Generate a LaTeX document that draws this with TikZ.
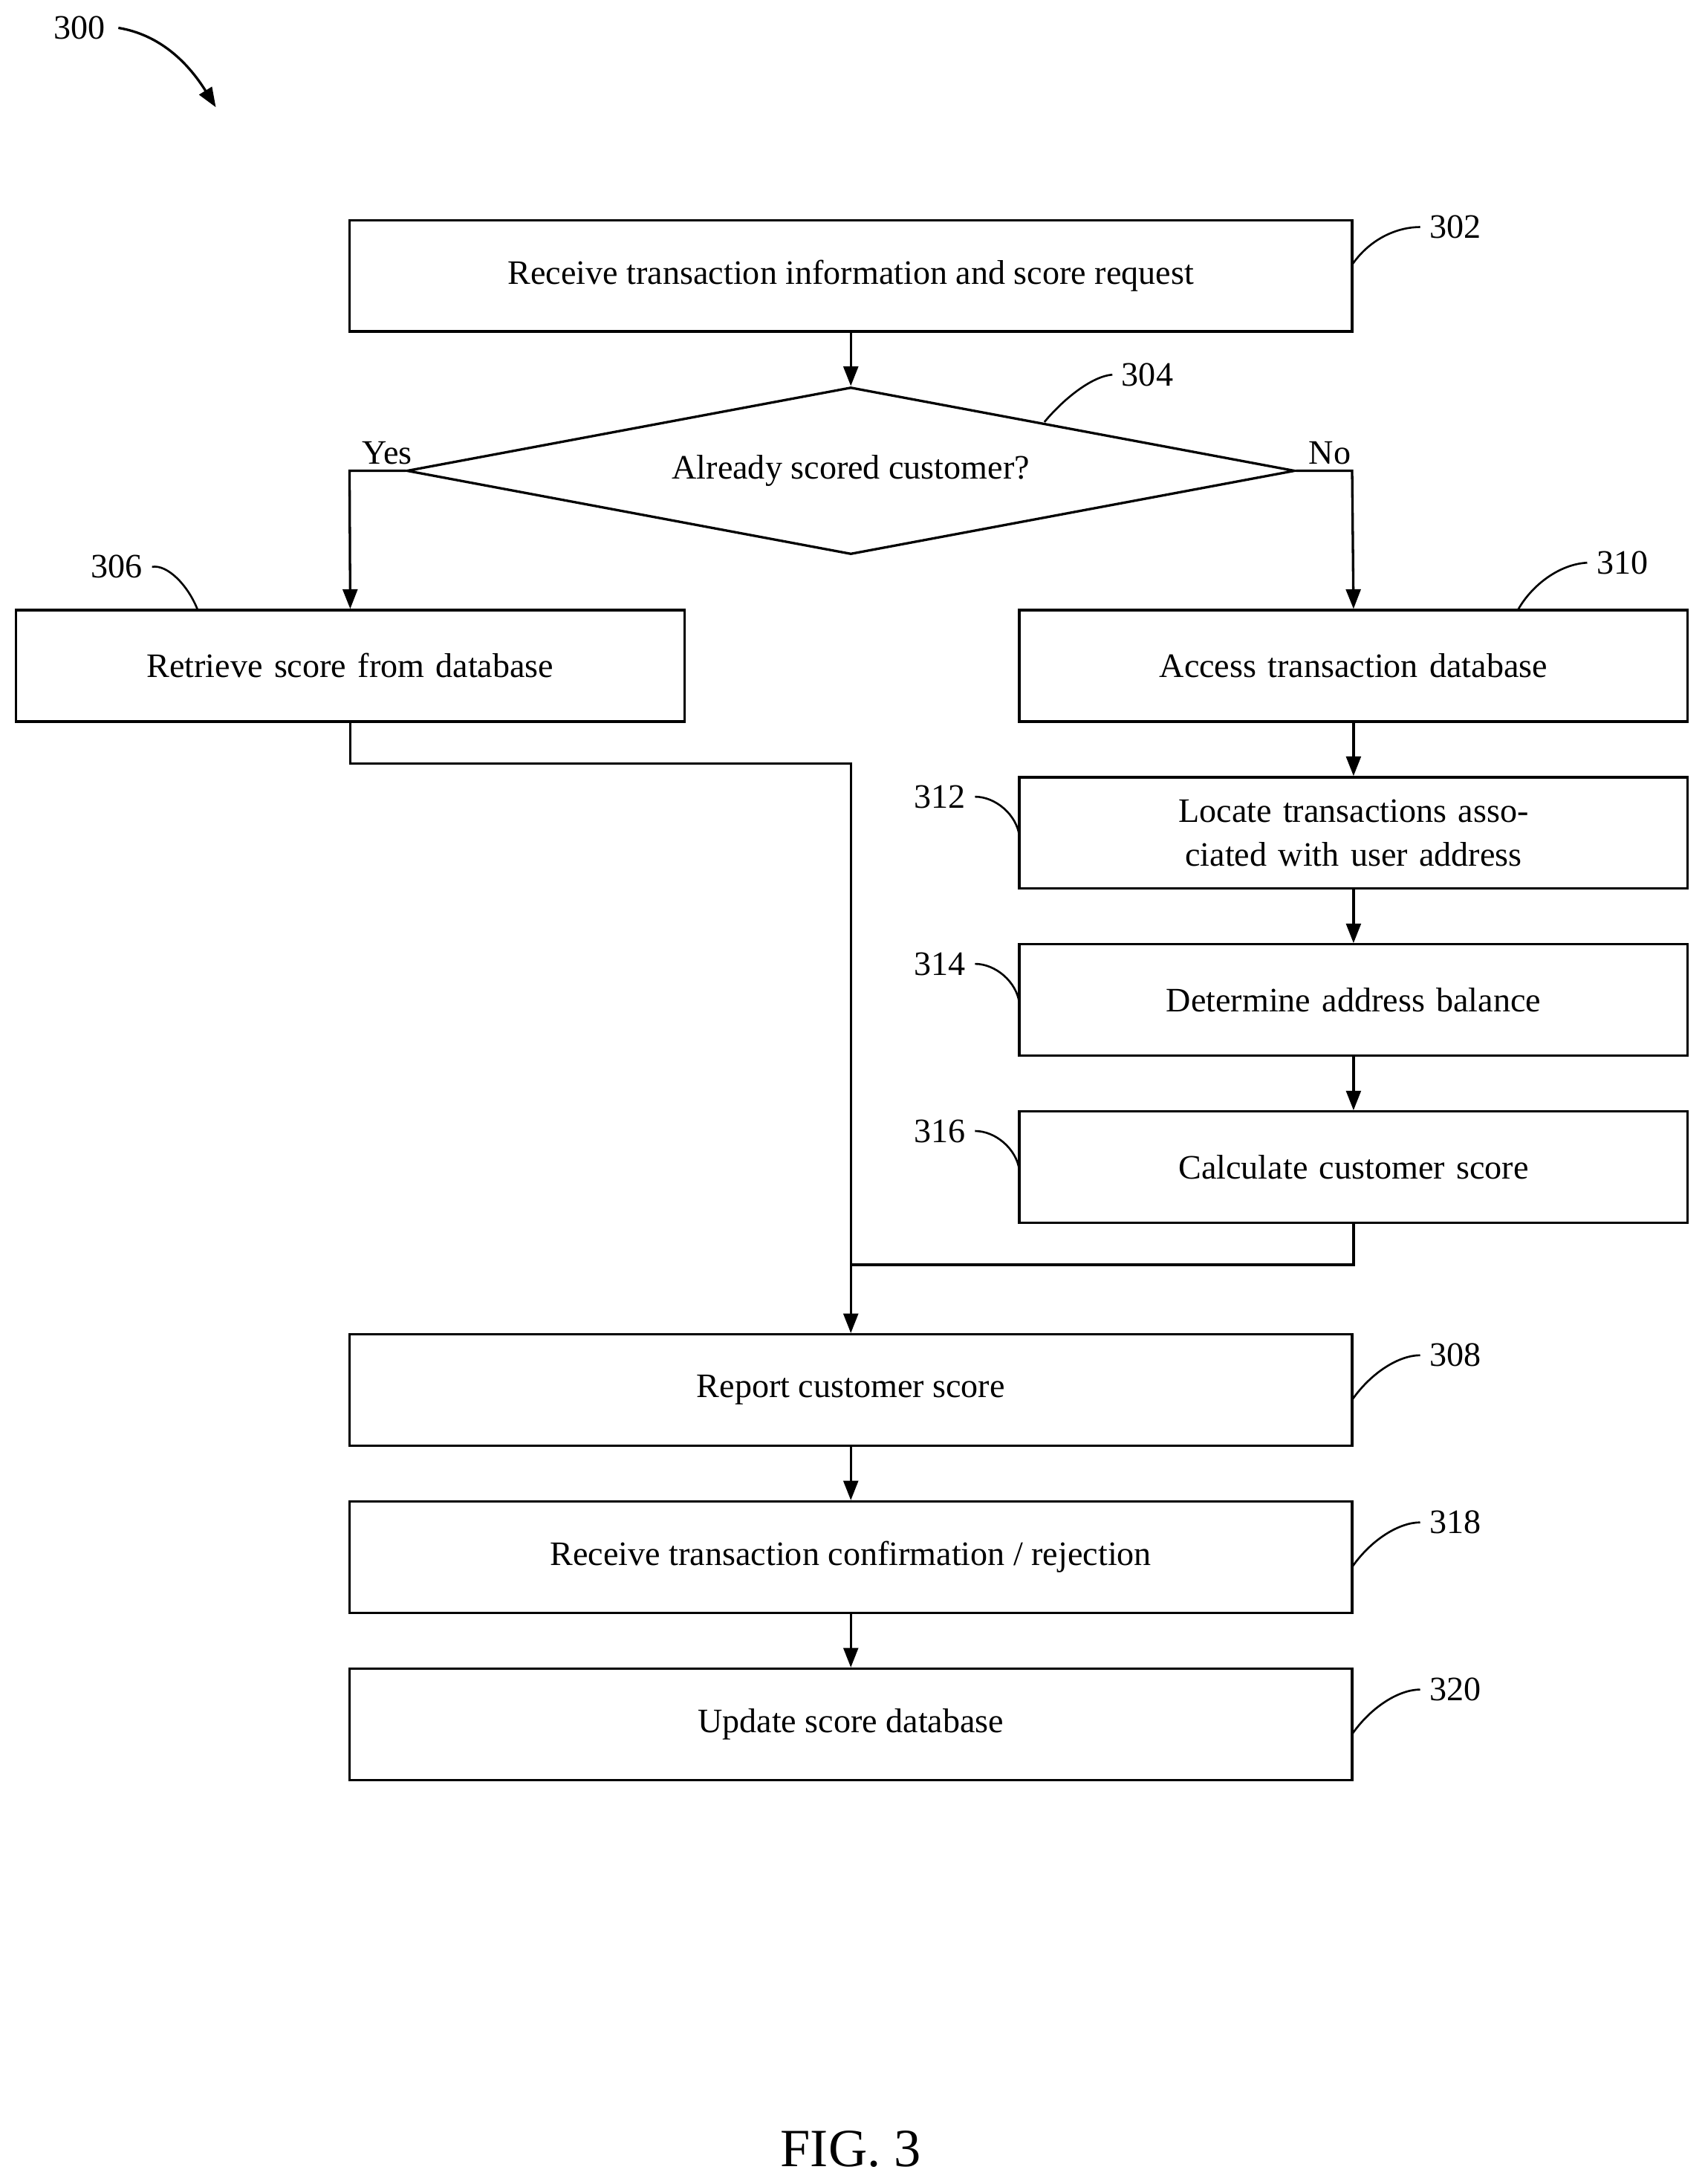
\documentclass[tikz,border=0pt]{standalone}
\usepackage{fontspec}
\setmainfont{Liberation Serif}
\usetikzlibrary{arrows.meta,shapes.geometric}
\begin{document}
\begin{tikzpicture}[x=0.02cm,y=-0.02cm,line width=1pt,
  font=\fontsize{14}{18}\selectfont,
  box/.style={draw,rectangle,minimum width=14.4cm,minimum height=1.6cm,align=center,inner sep=0pt},
  sbox/.style={draw,rectangle,minimum width=9.6cm,minimum height=1.6cm,align=center,text width=9cm,inner sep=0pt},
  arr/.style={-{Triangle[length=8pt,width=6pt]}},
  lead/.style={line width=0.8pt}]
\useasboundingbox (0,0) rectangle (1224,1568);
\node[box] (b302) at (611,198) {Receive transaction information and score request};
\node[draw,diamond,aspect=5.317,minimum width=12.76cm,minimum height=2.4cm,inner sep=0pt] (d304) at (611,338) {};
\node at (611,338) {Already scored customer?};
\node[sbox] (b306) at (251.5,478) {Retrieve score from database};
\node[sbox] (b310) at (972,478) {Access transaction database};
\node[sbox] (b312) at (972,598) {Locate transactions associated with user address};
\node[sbox] (b314) at (972,718) {Determine address balance};
\node[sbox] (b316) at (972,838) {Calculate customer score};
\node[box] (b308) at (611,998) {Report customer score};
\node[box] (b318) at (611,1118) {Receive transaction confirmation / rejection};
\node[box] (b320) at (611,1238) {Update score database};
\node[font=\fontsize{22}{26}\selectfont] (fig) at (611,1543) {FIG. 3};
% arrows
\draw[arr] (b302.south) -- (d304.north);
\draw[arr] (d304.west) -- (251,338) -- (b306.north);
\draw[arr] (d304.east) -- (971,338) -- (b310.north);
\node (yes) at (278,325) {Yes};
\node (no) at (955,325) {No};
\coordinate (j1) at (611,548);
\coordinate (j2) at (611,908);
\draw[arr] (b306.south) -- (251.5,548) -- (j1) -- (b308.north);
\draw (b316.south) -- (972,908) -- (j2);
\draw[arr] (b310) -- (b312);
\draw[arr] (b312) -- (b314);
\draw[arr] (b314) -- (b316);
\draw[arr] (b308) -- (b318);
\draw[arr] (b318) -- (b320);
% labels
\node (l300) at (57,20) {300};
\draw[arr] (85,20) .. controls (115,25) and (135,45) .. (155,77);
\node (l302) at (1045,163) {302};
\draw[lead] (971,190) .. controls (985,170) and (1005,163) .. (l302.west);
\node (l304) at (824,269) {304};
\draw[lead] (750,303) .. controls (765,285) and (785,270) .. (l304.west);
\node (l306) at (84,407) {306};
\draw[lead] (l306.east) .. controls (120,405) and (135,420) .. (142,438);
\node (l310) at (1165,404) {310};
\draw[lead] (1090,438) .. controls (1100,420) and (1120,405) .. (l310.west);
\node (l312) at (675,572) {312};
\draw[lead] (l312.east) .. controls (715,572) and (730,585) .. (732,600);
\node (l314) at (675,692) {314};
\draw[lead] (l314.east) .. controls (715,692) and (730,705) .. (732,720);
\node (l316) at (675,812) {316};
\draw[lead] (l316.east) .. controls (715,812) and (730,825) .. (732,840);
\node (l308) at (1045,973) {308};
\draw[lead] (971,1005) .. controls (985,985) and (1005,973) .. (l308.west);
\node (l318) at (1045,1093) {318};
\draw[lead] (971,1125) .. controls (985,1105) and (1005,1093) .. (l318.west);
\node (l320) at (1045,1213) {320};
\draw[lead] (971,1245) .. controls (985,1225) and (1005,1213) .. (l320.west);
\end{tikzpicture}
\end{document}
